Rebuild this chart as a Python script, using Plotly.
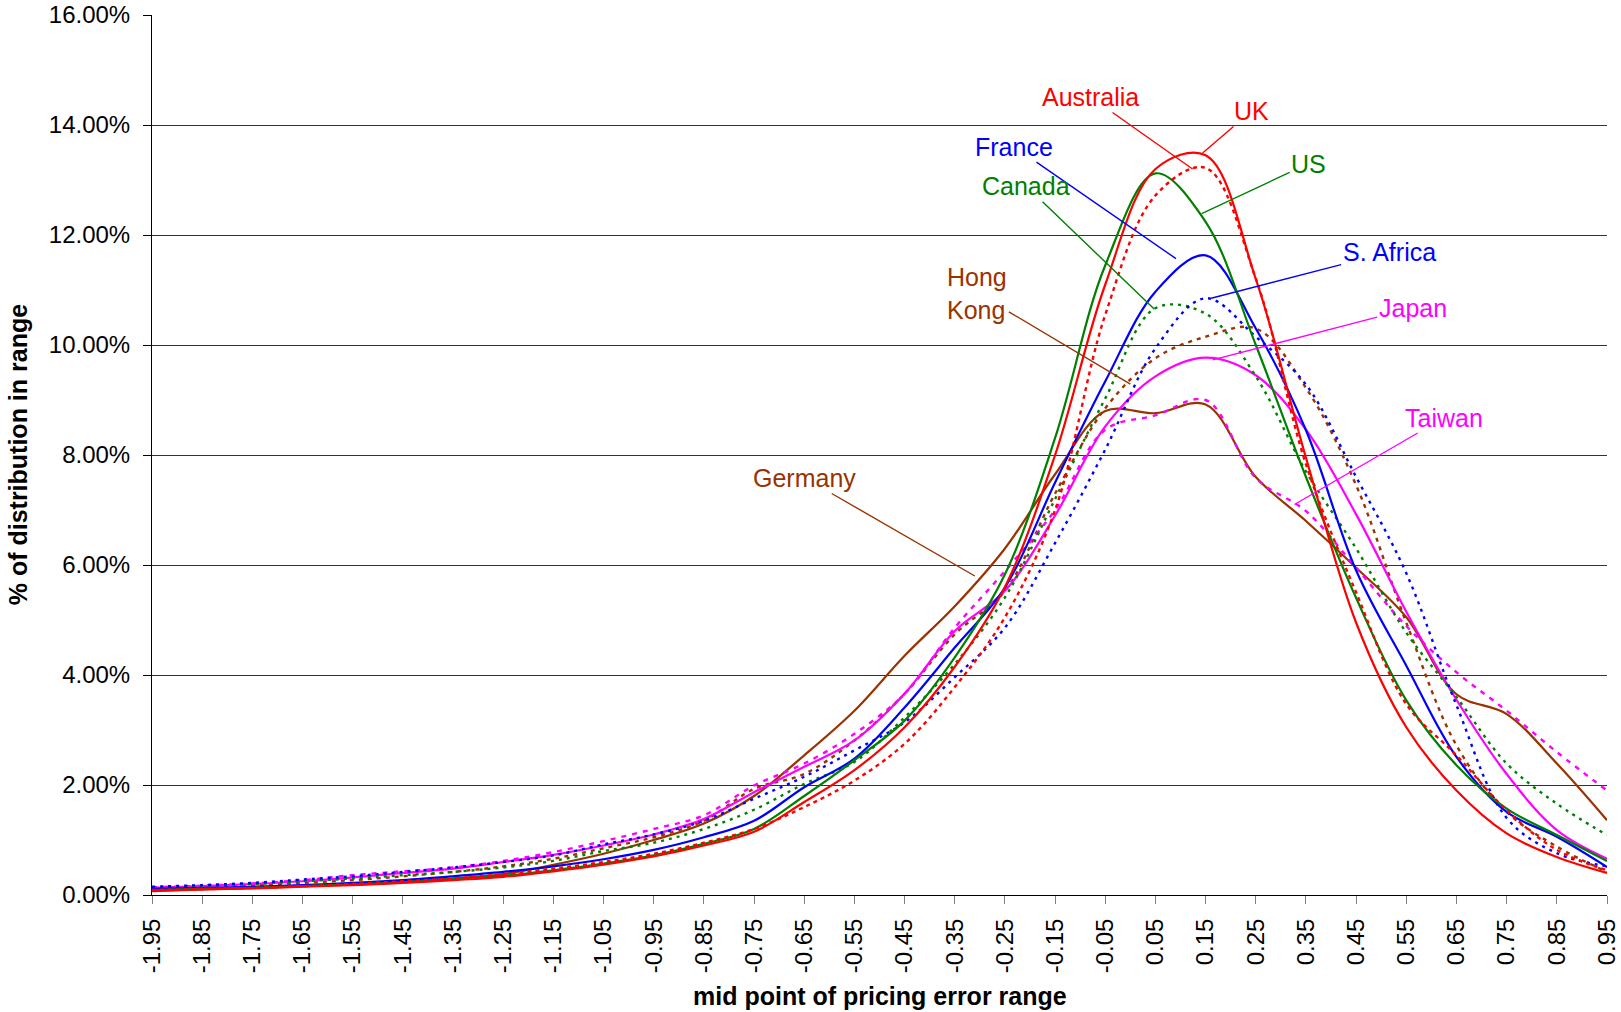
import plotly.graph_objects as go

# ---------------- data ----------------
x_mid = [-1.95, -1.85, -1.75, -1.65, -1.55, -1.45, -1.35, -1.25, -1.15, -1.05,
         -0.95, -0.85, -0.75, -0.65, -0.55, -0.45, -0.35, -0.25, -0.15, -0.05,
         0.05, 0.15, 0.25, 0.35, 0.45, 0.55, 0.65, 0.75, 0.85, 0.95]
x_labels = ["-1.95", "-1.85", "-1.75", "-1.65", "-1.55", "-1.45", "-1.35", "-1.25", "-1.15", "-1.05",
            "-0.95", "-0.85", "-0.75", "-0.65", "-0.55", "-0.45", "-0.35", "-0.25", "-0.15", "-0.05",
            "0.05", "0.15", "0.25", "0.35", "0.45", "0.55", "0.65", "0.75", "0.85", "0.95"]
y_ticks = [0, 2, 4, 6, 8, 10, 12, 14, 16]
y_labels = ["0.00%", "2.00%", "4.00%", "6.00%", "8.00%", "10.00%", "12.00%", "14.00%", "16.00%"]

uk = [0.07, 0.10, 0.12, 0.15, 0.18, 0.22, 0.27, 0.33, 0.43, 0.55, 0.70, 0.90, 1.15, 1.69, 2.27,
      3.05, 4.15, 5.60, 8.00, 11.10, 13.20, 13.45, 11.20, 7.95, 4.95, 3.05, 1.90, 1.12, 0.69, 0.40]
australia = [0.09, 0.11, 0.13, 0.16, 0.20, 0.25, 0.30, 0.38, 0.48, 0.60, 0.75, 0.95, 1.20, 1.60, 2.08,
             2.75, 3.78, 5.05, 7.00, 10.55, 12.72, 13.22, 11.21, 7.83, 5.50, 3.47, 2.54, 1.54, 0.82, 0.45]
us = [0.09, 0.11, 0.13, 0.16, 0.19, 0.23, 0.29, 0.35, 0.45, 0.57, 0.72, 0.93, 1.20, 1.80, 2.45,
      3.17, 4.32, 5.83, 8.31, 11.45, 13.12, 12.24, 10.00, 7.60, 5.40, 3.54, 2.36, 1.57, 1.09, 0.62]
canada = [0.14, 0.17, 0.20, 0.25, 0.30, 0.36, 0.42, 0.50, 0.62, 0.80, 0.95, 1.20, 1.55, 2.02, 2.42,
          3.23, 4.20, 5.41, 7.20, 9.03, 10.67, 10.57, 9.43, 7.70, 6.30, 4.77, 3.60, 2.39, 1.66, 1.09]
france = [0.11, 0.13, 0.15, 0.18, 0.22, 0.27, 0.34, 0.42, 0.52, 0.65, 0.82, 1.05, 1.35, 1.96, 2.48,
          3.41, 4.50, 5.59, 7.50, 9.34, 10.97, 11.63, 10.30, 8.45, 5.90, 4.17, 2.51, 1.51, 1.06, 0.51]
s_africa = [0.15, 0.18, 0.22, 0.28, 0.34, 0.42, 0.50, 0.60, 0.72, 0.92, 1.10, 1.35, 1.75, 2.15, 2.63,
            3.14, 3.96, 4.86, 6.40, 8.10, 9.94, 10.85, 10.15, 9.28, 7.60, 5.85, 3.45, 1.40, 0.76, 0.52]
japan = [0.13, 0.16, 0.20, 0.25, 0.32, 0.40, 0.48, 0.60, 0.73, 0.90, 1.10, 1.38, 1.87, 2.33, 2.81,
         3.66, 4.80, 5.53, 6.90, 8.52, 9.43, 9.77, 9.45, 8.46, 6.92, 5.15, 3.55, 2.20, 1.18, 0.66]
taiwan = [0.14, 0.17, 0.21, 0.27, 0.36, 0.43, 0.50, 0.62, 0.78, 0.98, 1.20, 1.45, 1.99, 2.39, 2.93,
          3.66, 4.86, 5.89, 7.00, 8.46, 8.72, 9.00, 7.58, 6.98, 5.95, 4.89, 4.05, 3.35, 2.60, 1.90]
germany = [0.08, 0.10, 0.13, 0.16, 0.20, 0.25, 0.30, 0.38, 0.55, 0.75, 1.00, 1.30, 1.80, 2.54, 3.35,
           4.35, 5.25, 6.30, 7.65, 8.80, 8.76, 8.92, 7.60, 6.80, 5.95, 5.05, 3.65, 3.29, 2.39, 1.36]
hong_kong = [0.12, 0.14, 0.18, 0.22, 0.27, 0.34, 0.42, 0.52, 0.66, 0.85, 1.05, 1.35, 1.93, 2.20, 2.81,
             3.66, 4.74, 5.53, 7.30, 8.85, 9.76, 10.15, 10.30, 9.22, 7.45, 4.95, 2.72, 1.51, 0.88, 0.42]

# ---------------- styles ----------------
RED, GREEN, BLUE, MAG, BROWN = "#FF0000", "#008000", "#0000FF", "#FF00FF", "#993300"
FONT = "Liberation Sans, Arial, sans-serif"

series = [
    ("Germany", germany, BROWN, "solid"),
    ("Hong Kong", hong_kong, BROWN, "4px,5px"),
    ("Japan", japan, MAG, "solid"),
    ("Taiwan", taiwan, MAG, "5px,6px"),
    ("Canada", canada, GREEN, "3px,5px"),
    ("S. Africa", s_africa, BLUE, "3px,5px"),
    ("France", france, BLUE, "solid"),
    ("US", us, GREEN, "solid"),
    ("Australia", australia, RED, "4px,4px"),
    ("UK", uk, RED, "solid"),
]

fig = go.Figure()
for name, vals, col, dash in series:
    fig.add_trace(go.Scatter(
        x=x_mid, y=vals, name=name, mode="lines",
        line=dict(color=col, width=2.4 if dash != "solid" else 2.2, dash=dash,
                  shape="spline", smoothing=1.0),
        hoverinfo="x+y+name",
    ))

# label annotations: (text, colour, anchor x, anchor y, ax, ay)
labels = [
    ("Australia", RED, 0.124, 13.2, -102, -72),
    ("UK", RED, 0.144, 13.49, 49, -42),
    ("US", GREEN, 0.142, 12.39, 107, -50),
    ("France", BLUE, 0.091, 11.57, -162, -112),
    ("Canada", GREEN, 0.048, 10.65, -128, -123),
    ("Hong<br>Kong", BROWN, 0.0, 9.29, -153, -91),
    ("S. Africa", BLUE, 0.161, 10.85, 178, -46),
    ("Japan", MAG, 0.164, 9.73, 200, -52),
    ("Taiwan", MAG, 0.327, 7.1, 150, -87),
    ("Germany", BROWN, -0.31, 5.8, -170, -98),
]
annotations = []
for text, col, ax_, ay_, dx, dy in labels:
    annotations.append(dict(
        x=ax_, y=ay_, xref="x", yref="y", text=text, showarrow=True,
        ax=dx, ay=dy, arrowhead=0, arrowwidth=1.4, arrowcolor=col, standoff=0,
        font=dict(family=FONT, size=25, color=col), align="left",
    ))

# axis titles
annotations.append(dict(
    x=0.5, y=-0.1144, xref="paper", yref="paper", showarrow=False,
    text="<b>mid point of pricing error range</b>", xanchor="center", yanchor="middle",
    font=dict(family=FONT, size=25, color="#000000"),
))
annotations.append(dict(
    x=-0.0919, y=0.5, xref="paper", yref="paper", showarrow=False, textangle=-90,
    text="<b>% of distribution in range</b>", xanchor="center", yanchor="middle",
    font=dict(family=FONT, size=25, color="#000000"),
))

fig.update_layout(
    template="none",
    width=1621, height=1012,
    margin=dict(l=152, r=14, t=15, b=117, pad=0),
    paper_bgcolor="white", plot_bgcolor="white",
    showlegend=False,
    font=dict(family=FONT, size=24, color="#000000"),
    annotations=annotations,
    xaxis=dict(
        range=[x_mid[0], x_mid[-1]], tickmode="array", tickvals=x_mid, ticktext=x_labels,
        tickangle=-90, ticks="outside", ticklen=8, tickcolor="#808080", tickwidth=1,
        showline=True, linecolor="#000000", linewidth=1, showgrid=False, zeroline=False,
        tickfont=dict(family=FONT, size=24, color="#000000"), ticklabelstandoff=5,
        ticklabeloverflow="allow",
    ),
    yaxis=dict(
        range=[0, 16], tickmode="array", tickvals=y_ticks, ticktext=y_labels,
        ticks="outside", ticklen=8, tickcolor="#000000", tickwidth=1,
        showline=True, linecolor="#000000", linewidth=1,
        showgrid=True, gridcolor="#333333", gridwidth=1, zeroline=False,
        tickfont=dict(family=FONT, size=24, color="#000000"), ticklabelstandoff=8,
        ticklabeloverflow="allow",
    ),
)

fig.write_html("out.html", include_plotlyjs=True, config={"displayModeBar": False},
               post_script="document.body.style.margin='0';document.body.style.overflow='hidden';")
